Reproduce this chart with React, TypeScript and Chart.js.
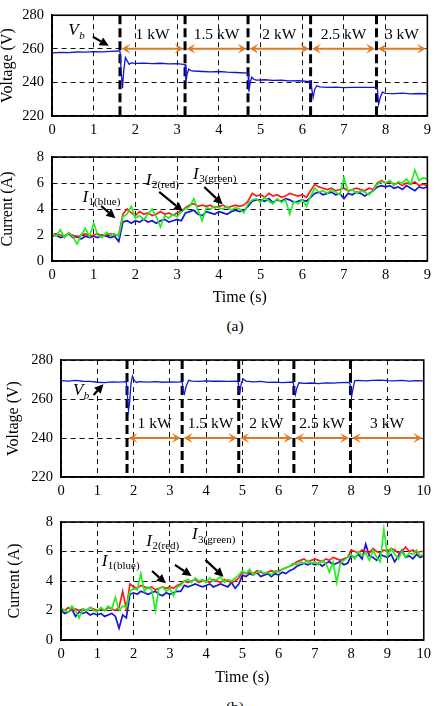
import React, { useEffect, useRef } from "react";
import { Chart, registerables } from "chart.js";

Chart.register(...registerables);

const FONT = "'Liberation Serif', 'Times New Roman', serif";
const ORANGE = "#E07A22";
const BLUE = "#1414d8";
const RED = "#ff1a1a";
const GREEN = "#22ee22";

// ---------- (a) data ----------
const timeStepA = 0.1;
const switchTimesA = [1.63, 3.19, 4.7, 6.2, 7.78];
const powerLabels = ["1 kW", "1.5 kW", "2 kW", "2.5 kW", "3 kW"];

const voltageA: [number, number][] = [
  [0, 257.6], [0.2, 257.9], [0.4, 257.8], [0.6, 258.1], [0.8, 258.0], [1.0, 258.3],
  [1.2, 258.2], [1.4, 258.5], [1.6, 258.7], [1.63, 258.6], [1.66, 246], [1.69, 236.5],
  [1.72, 247], [1.76, 254.8], [1.8, 253], [1.85, 250.8], [1.9, 251.6], [2.0, 251.3],
  [2.2, 251.5], [2.4, 251.2], [2.6, 251.4], [2.8, 251.1], [3.0, 251.2], [3.19, 250.6],
  [3.21, 240.2], [3.24, 245], [3.28, 248], [3.33, 247], [3.4, 246.8], [3.6, 246.5],
  [3.8, 246.3], [4.0, 246.5], [4.2, 246.1], [4.4, 245.9], [4.7, 245.5], [4.72, 234.5],
  [4.75, 239.5], [4.79, 243.2], [4.84, 241.8], [4.9, 241.4], [5.1, 241.6], [5.3, 241.2],
  [5.5, 241.3], [5.7, 240.9], [5.9, 241.0], [6.2, 240.5], [6.23, 235.8], [6.26, 231],
  [6.3, 236], [6.35, 238], [6.42, 237.3], [6.6, 237], [6.8, 237.2], [7.0, 236.9],
  [7.2, 237.1], [7.4, 237], [7.78, 237.1], [7.8, 236.5], [7.83, 227], [7.87, 231],
  [7.92, 234.2], [8.0, 233.5], [8.2, 233.3], [8.4, 233.6], [8.6, 233.2], [8.8, 233.4],
  [9.0, 233.2],
];

const currentA_blue = [
  1.9, 2.0, 1.8, 1.9, 2.1, 1.8, 1.9, 1.7, 1.9, 1.8,
  1.9, 1.8, 2.0, 1.9, 1.8, 1.9, 1.5, 3.0, 3.1, 2.9,
  3.1, 3.0, 3.2, 3.0, 3.1, 2.9, 3.1, 3.2, 3.0, 3.1,
  3.2, 3.1, 3.7, 3.8, 3.9, 3.6, 3.5, 3.8, 3.7, 3.6,
  3.8, 3.7, 3.6, 3.8, 3.9, 3.8, 3.9, 4.2, 4.6, 4.7,
  4.7, 4.6, 4.8, 4.5, 4.7, 4.6, 4.8, 4.7, 4.5, 4.6,
  4.7, 4.6, 4.9, 5.2, 5.3, 5.1, 5.2, 5.3, 5.1, 5.2,
  4.8, 5.2, 5.1, 5.3, 5.2, 5.0, 5.2, 5.4, 5.7, 5.8,
  5.7, 5.8, 5.6, 5.7, 5.5, 5.8, 5.6, 5.4, 5.7, 5.6,
  5.7,
];
const currentA_red = [
  2.0, 2.1, 2.0, 1.9, 2.1, 2.0, 1.8, 2.0, 2.1, 1.9,
  2.0, 2.1, 1.9, 2.0, 2.1, 2.0, 2.0, 3.6, 4.0, 3.7,
  3.5, 3.8, 3.6, 3.7, 3.5, 3.6, 3.8, 3.6, 3.7, 3.5,
  3.7, 3.8, 4.1, 4.3, 4.4, 4.2, 4.3, 4.2, 4.3, 4.1,
  4.2, 4.3, 4.1, 4.2, 4.3, 4.2, 4.3, 4.6, 5.2, 5.0,
  5.1, 4.9, 5.2, 5.0, 5.1, 4.9, 5.0, 5.2, 5.1, 5.0,
  5.1, 4.9, 5.4, 5.9, 5.7, 5.6, 5.5, 5.6, 5.4, 5.5,
  5.6, 5.4, 5.5, 5.6, 5.5, 5.4, 5.6, 5.5, 6.0, 6.2,
  6.0, 6.1, 5.9, 6.0, 5.8, 6.0, 5.9, 6.1, 5.8, 5.9,
  5.8,
];
const currentA_green = [
  2.1, 1.9, 2.4, 1.8, 2.2, 1.9, 1.3, 2.0, 2.5, 1.9,
  2.9, 2.0, 1.8, 2.2, 2.0, 2.1, 1.9, 3.4, 3.6, 4.2,
  3.3, 3.5, 3.2, 3.6, 4.0, 3.4, 2.6, 3.5, 3.3, 3.6,
  3.4, 3.8, 4.0, 4.2, 4.8, 3.9, 3.1, 4.1, 4.0, 4.2,
  4.1, 4.0, 4.2, 3.9, 4.1, 4.0, 3.7, 4.4, 4.7, 4.8,
  4.5, 4.9, 4.6, 4.4, 4.8, 4.5, 4.7, 3.6, 4.6, 4.4,
  4.7, 4.2, 5.0, 5.6, 5.3, 5.4, 5.2, 5.5, 5.3, 5.1,
  6.4, 5.3, 5.5, 5.2, 5.4, 5.3, 5.1, 5.4, 5.9, 6.1,
  6.0, 6.2, 5.8, 6.1, 6.0, 6.3, 5.9, 7.0, 6.2, 6.4,
  6.3,
];

// ---------- (b) data ----------
const timeStepB = 0.1;
const switchTimesB = [1.82, 3.34, 4.9, 6.42, 7.98];

const voltageB: [number, number][] = [
  [0, 269.4], [0.2, 269.2], [0.4, 269.5], [0.6, 269.1], [0.8, 269.0], [1.0, 268.6],
  [1.2, 268.4], [1.4, 268.8], [1.6, 268.7], [1.8, 268.9], [1.83, 262], [1.86, 254],
  [1.89, 258], [1.93, 268], [1.97, 271.8], [2.02, 269.5], [2.08, 268.5], [2.15, 268.9],
  [2.4, 268.7], [2.6, 268.9], [2.8, 268.6], [3.0, 268.8], [3.2, 268.7], [3.34, 268.9],
  [3.37, 264], [3.4, 262.6], [3.45, 266.5], [3.52, 269.6], [3.6, 269.2], [3.8, 269.0],
  [4.0, 269.3], [4.2, 269.1], [4.4, 269.2], [4.6, 269.0], [4.88, 269.1], [4.91, 265],
  [4.93, 263], [4.97, 268], [5.02, 270.3], [5.1, 269.2], [5.3, 268.8], [5.5, 269.0],
  [5.7, 268.5], [5.9, 268.7], [6.1, 268.4], [6.4, 268.7], [6.43, 265], [6.46, 262.2],
  [6.5, 265.5], [6.56, 268.3], [6.7, 268.0], [6.9, 268.2], [7.1, 267.9], [7.3, 268.3],
  [7.5, 268.1], [7.7, 268.4], [7.96, 268.5], [7.99, 264], [8.01, 261.3], [8.05, 265.5],
  [8.1, 269.4], [8.2, 269.6], [8.4, 269.3], [8.6, 269.5], [8.8, 269.7], [9.0, 269.4],
  [9.2, 269.3], [9.4, 269.5], [9.6, 269.2], [9.8, 269.4], [10, 269.3],
];

const currentB_blue = [
  2.0, 1.8, 1.9, 2.1, 1.6, 1.9, 1.8, 1.9, 1.7, 1.8,
  1.7, 1.8, 1.6, 1.7, 1.8, 1.6, 0.8, 1.7, 1.5, 3.1,
  3.2, 3.1, 3.3, 3.2, 3.1, 3.2, 3.3, 3.1, 3.0, 3.2,
  3.1, 3.2, 3.3, 3.3, 3.7, 3.6, 3.7, 3.8, 3.7, 3.6,
  3.7, 3.8, 3.6, 3.7, 3.8, 3.7, 3.6, 3.9, 3.5, 3.8,
  4.4, 4.3, 4.5, 4.4, 4.6, 4.3, 4.4, 4.5, 4.3, 4.5,
  4.4, 4.6, 4.5, 4.7, 4.8, 5.0, 5.1, 5.2, 5.1, 5.2,
  5.1, 5.2, 5.0, 5.2, 5.3, 5.1, 5.2, 5.3, 5.1, 5.2,
  5.7, 5.6, 5.8, 5.5, 6.5, 5.7, 5.6, 5.4, 5.8, 5.7,
  5.6, 5.8, 5.3, 5.7, 6.1, 5.6, 5.7, 5.5, 5.8, 5.6,
  5.7,
];
const currentB_red = [
  2.1, 2.0, 2.2, 2.0, 2.1, 2.0, 2.1, 2.0, 2.2, 2.1,
  2.0, 2.1, 2.0, 2.2, 2.1, 2.0, 2.2, 3.3, 2.1, 3.8,
  3.6, 3.5, 3.7, 3.6, 3.5, 3.6, 3.4, 3.5, 3.6, 3.5,
  3.6, 3.5, 3.7, 3.8, 4.0, 3.9, 4.0, 4.1, 3.9, 4.0,
  4.0, 3.9, 4.1, 4.0, 3.9, 4.1, 4.0, 3.9, 4.0, 4.2,
  4.6, 4.5, 4.6, 4.5, 4.7, 4.6, 4.5, 4.6, 4.7, 4.6,
  4.7, 4.8, 4.9, 5.0, 5.1, 5.3, 5.4, 5.5, 5.3, 5.4,
  5.5, 5.4, 5.3, 5.5, 5.4, 5.6, 5.5, 5.4, 5.5, 5.6,
  6.1, 6.0, 5.9, 6.1, 6.0, 5.9, 6.2, 6.0, 5.9, 6.1,
  6.0, 6.2, 6.1, 5.9, 6.0, 6.3, 6.0, 6.1, 5.9, 6.0,
  6.0,
];
const currentB_green = [
  2.2, 2.0, 1.9, 2.3, 2.0, 1.5, 2.1, 2.0, 2.2, 2.0,
  1.9, 2.2, 2.0, 2.3, 2.1, 2.9, 2.0, 2.3, 2.2, 3.3,
  3.5, 3.4, 4.5, 3.3, 3.6, 3.4, 2.0, 3.5, 3.6, 3.3,
  3.5, 3.0, 3.6, 3.7, 4.0, 4.1, 3.9, 4.2, 4.0, 4.1,
  3.9, 4.2, 4.0, 4.1, 4.3, 3.9, 4.1, 4.0, 4.2, 4.4,
  4.7, 4.5, 4.8, 4.4, 4.6, 4.7, 4.5, 4.6, 4.4, 4.7,
  4.6, 4.8, 4.9, 5.0, 5.2, 5.1, 5.3, 5.2, 5.4, 5.2,
  5.3, 5.1, 5.4, 5.2, 4.6, 5.3, 3.9, 5.2, 5.4, 5.6,
  5.8, 5.5, 6.0, 5.7, 5.9, 5.4, 6.1, 5.6, 5.3, 7.5,
  5.7, 6.2, 5.8, 5.5, 6.0, 5.6, 5.9, 5.8, 6.1, 5.7,
  5.8,
];

// ---------- helpers ----------
type Note = {
  x: number; y: number; main: string; sub: string; subItalic?: boolean;
  arrow: [number, number, number, number];
};

type PanelCfg = {
  key: string;
  top: number; h: number;
  areaL: number; areaT: number; areaR: number; areaB: number;
  xMax: number;
  yMin: number; yMax: number; yStep: number;
  yTitle: string; yTitlePad: number;
  xTitle?: string;
  datasets: any[];
  switches?: number[];
  arrowY?: number; labelY?: number;
  notes: Note[];
};

const fromSeries = (vals: number[], dt: number) => vals.map((v, i) => ({ x: i * dt, y: v }));
const fromPairs = (pairs: [number, number][]) => pairs.map(([x, y]) => ({ x, y }));

function drawArrowBlack(ctx: CanvasRenderingContext2D, x1: number, y1: number, x2: number, y2: number) {
  const ang = Math.atan2(y2 - y1, x2 - x1);
  const L = 9, W = 4.5;
  const bx = x2 - L * Math.cos(ang), by = y2 - L * Math.sin(ang);
  ctx.strokeStyle = "#000"; ctx.fillStyle = "#000"; ctx.lineWidth = 2.2;
  ctx.beginPath(); ctx.moveTo(x1, y1); ctx.lineTo(bx, by); ctx.stroke();
  ctx.beginPath();
  ctx.moveTo(x2, y2);
  ctx.lineTo(bx + W * Math.sin(ang), by - W * Math.cos(ang));
  ctx.lineTo(bx - W * Math.sin(ang), by + W * Math.cos(ang));
  ctx.closePath(); ctx.fill();
}

function orangeHead(ctx: CanvasRenderingContext2D, tipX: number, y: number, dir: number) {
  ctx.fillStyle = ORANGE;
  ctx.beginPath();
  ctx.moveTo(tipX, y);
  ctx.lineTo(tipX - dir * 9, y - 5);
  ctx.lineTo(tipX - dir * 5, y);
  ctx.lineTo(tipX - dir * 9, y + 5);
  ctx.closePath();
  ctx.fill();
}

function makeOverlay(cfg: PanelCfg) {
  return {
    id: "overlay_" + cfg.key,
    beforeDatasetsDraw(chart: any) {
      if (!cfg.switches) return;
      const { ctx, chartArea: ca, scales } = chart;
      ctx.save();
      ctx.strokeStyle = "#000"; ctx.lineWidth = 3; ctx.setLineDash([9, 4]);
      for (const s of cfg.switches) {
        const px = scales.x.getPixelForValue(s);
        ctx.beginPath(); ctx.moveTo(px, ca.top); ctx.lineTo(px, ca.bottom); ctx.stroke();
      }
      ctx.restore();
    },
    afterDraw(chart: any) {
      const { ctx, chartArea: ca, scales } = chart;
      const xs = scales.x, ys = scales.y;
      ctx.save();
      ctx.setLineDash([]);
      ctx.strokeStyle = "#000"; ctx.lineWidth = 1.6;
      ctx.strokeRect(ca.left, ca.top, ca.right - ca.left, ca.bottom - ca.top);

      if (cfg.switches && cfg.arrowY !== undefined && cfg.labelY !== undefined) {
        const b = [...cfg.switches, xs.max];
        const ay = ys.getPixelForValue(cfg.arrowY);
        const ly = ys.getPixelForValue(cfg.labelY);
        for (let i = 0; i < powerLabels.length; i++) {
          const x1 = xs.getPixelForValue(b[i]) + 1.5;
          const x2 = xs.getPixelForValue(b[i + 1]) - 1.5;
          ctx.strokeStyle = ORANGE; ctx.lineWidth = 2;
          ctx.beginPath(); ctx.moveTo(x1 + 4, ay); ctx.lineTo(x2 - 4, ay); ctx.stroke();
          orangeHead(ctx, x1, ay, -1);
          orangeHead(ctx, x2, ay, 1);
          ctx.fillStyle = "#000";
          ctx.font = `15.5px ${FONT}`;
          ctx.textAlign = "center"; ctx.textBaseline = "middle";
          ctx.fillText(powerLabels[i], (x1 + x2) / 2, ly);
        }
      }

      for (const n of cfg.notes) {
        const px = xs.getPixelForValue(n.x), py = ys.getPixelForValue(n.y);
        ctx.fillStyle = "#000";
        ctx.textAlign = "left"; ctx.textBaseline = "middle";
        ctx.font = `italic 17px ${FONT}`;
        ctx.fillText(n.main, px, py);
        const w = ctx.measureText(n.main).width;
        ctx.font = `${n.subItalic ? "italic " : ""}11px ${FONT}`;
        ctx.fillText(n.sub, px + w + 0.5, py + 5);
        const [a1, b1, a2, b2] = n.arrow;
        drawArrowBlack(ctx,
          xs.getPixelForValue(a1), ys.getPixelForValue(b1),
          xs.getPixelForValue(a2), ys.getPixelForValue(b2));
      }
      ctx.restore();
    },
  };
}

function buildConfig(cfg: PanelCfg): any {
  const tickFont = { family: FONT, size: 14.5, lineHeight: 1 };
  const titleFont = { family: FONT, size: 16, lineHeight: 1 };
  const xAxisH = cfg.h - cfg.areaB;
  return {
    type: "line",
    data: { datasets: cfg.datasets },
    options: {
      animation: false,
      responsive: false,
      devicePixelRatio: 1,
      layout: { padding: { left: 0, top: cfg.areaT, right: 438 - cfg.areaR, bottom: 0 } },
      plugins: { legend: { display: false }, tooltip: { enabled: false } },
      elements: { point: { radius: 0 }, line: { tension: 0 } },
      scales: {
        x: {
          type: "linear", min: 0, max: cfg.xMax,
          ticks: { stepSize: 1, autoSkip: false, maxRotation: 0, color: "#000", font: tickFont, padding: 7 },
          grid: { color: "#111", lineWidth: 1, drawTicks: false },
          border: { display: true, color: "#000", width: 1.6, dash: [5, 4] },
          title: cfg.xTitle
            ? { display: true, text: cfg.xTitle, color: "#000", font: titleFont, padding: { top: 0, bottom: 4.5 } }
            : { display: false },
          afterFit: (s: any) => { s.height = xAxisH; },
        },
        y: {
          type: "linear", min: cfg.yMin, max: cfg.yMax,
          ticks: { stepSize: cfg.yStep, color: "#000", font: tickFont, padding: 8 },
          grid: { color: "#111", lineWidth: 1, drawTicks: false },
          border: { display: true, color: "#000", width: 1.6, dash: [5, 4] },
          title: { display: true, text: cfg.yTitle, color: "#000", font: titleFont, padding: { top: cfg.yTitlePad, bottom: 0 } },
          afterFit: (s: any) => { s.width = cfg.areaL; },
        },
      },
    },
    plugins: [makeOverlay(cfg)],
  };
}

function Panel({ cfg }: { cfg: PanelCfg }) {
  const ref = useRef<HTMLCanvasElement>(null);
  useEffect(() => {
    const chart = new Chart(ref.current as HTMLCanvasElement, buildConfig(cfg));
    return () => chart.destroy();
  }, [cfg]);
  return (
    <canvas
      ref={ref}
      width={438}
      height={cfg.h}
      style={{ position: "absolute", left: 0, top: cfg.top, width: 438, height: cfg.h, display: "block" }}
    />
  );
}

const lineDs = (data: any[], color: string, width: number) => ({
  data, borderColor: color, backgroundColor: color, borderWidth: width, pointRadius: 0, fill: false,
});

const panels: PanelCfg[] = [
  {
    key: "va", top: 0, h: 140, areaL: 52, areaT: 13, areaR: 428, areaB: 116,
    xMax: 9, yMin: 220, yMax: 280, yStep: 20, yTitle: "Voltage (V)", yTitlePad: 0,
    datasets: [lineDs(fromPairs(voltageA), BLUE, 1.3)],
    switches: switchTimesA, arrowY: 260, labelY: 268.3,
    notes: [{ x: 0.39, y: 270.7, main: "V", sub: "b", subItalic: true, arrow: [0.98, 267.2, 1.36, 261.8] }],
  },
  {
    key: "ia", top: 140, h: 170, areaL: 52, areaT: 17, areaR: 428, areaB: 121,
    xMax: 9, yMin: 0, yMax: 8, yStep: 2, yTitle: "Current (A)", yTitlePad: 0, xTitle: "Time (s)",
    datasets: [
      lineDs(fromSeries(currentA_green, timeStepA), GREEN, 1.7),
      lineDs(fromSeries(currentA_red, timeStepA), RED, 1.7),
      lineDs(fromSeries(currentA_blue, timeStepA), BLUE, 1.7),
    ],
    notes: [
      { x: 0.73, y: 4.88, main: "I", sub: "1(blue)", arrow: [1.18, 4.23, 1.52, 3.28] },
      { x: 2.25, y: 6.21, main: "I", sub: "2(red)", arrow: [2.57, 5.31, 3.14, 3.82] },
      { x: 3.38, y: 6.67, main: "I", sub: "3(green)", arrow: [3.65, 5.69, 4.09, 4.36] },
    ],
  },
  {
    key: "vb", top: 340, h: 165, areaL: 61, areaT: 20, areaR: 428, areaB: 137,
    xMax: 10, yMin: 220, yMax: 280, yStep: 20, yTitle: "Voltage (V)", yTitlePad: 6,
    datasets: [lineDs(fromPairs(voltageB), BLUE, 1.3)],
    switches: switchTimesB, arrowY: 240, labelY: 247.2,
    notes: [{ x: 0.33, y: 264.3, main: "V", sub: "b", subItalic: true, arrow: [0.9, 262.1, 1.17, 267.6] }],
  },
  {
    key: "ib", top: 505, h: 185, areaL: 61, areaT: 17, areaR: 428, areaB: 135,
    xMax: 10, yMin: 0, yMax: 8, yStep: 2, yTitle: "Current (A)", yTitlePad: 7, xTitle: "Time (s)",
    datasets: [
      lineDs(fromSeries(currentB_green, timeStepB), GREEN, 1.7),
      lineDs(fromSeries(currentB_red, timeStepB), RED, 1.7),
      lineDs(fromSeries(currentB_blue, timeStepB), BLUE, 1.7),
    ],
    notes: [
      { x: 1.12, y: 5.32, main: "I", sub: "1(blue)", arrow: [2.51, 4.68, 2.89, 3.84] },
      { x: 2.35, y: 6.68, main: "I", sub: "2(red)", arrow: [3.14, 5.09, 3.6, 4.34] },
      { x: 3.61, y: 7.13, main: "I", sub: "3(green)", arrow: [3.98, 5.43, 4.48, 4.29] },
    ],
  },
];

const captionStyle = (top: number): React.CSSProperties => ({
  position: "absolute", left: 185, width: 100, top, textAlign: "center",
  fontFamily: FONT, fontSize: 15.5, lineHeight: "16px", color: "#000",
});

export default function App() {
  return (
    <div style={{ position: "absolute", left: 0, top: 0, width: 438, height: 706, overflow: "hidden", background: "#fff" }}>
      {panels.map((p) => <Panel key={p.key} cfg={p} />)}
      <div style={captionStyle(318)}>(a)</div>
      <div style={captionStyle(699)}>(b)</div>
    </div>
  );
}
